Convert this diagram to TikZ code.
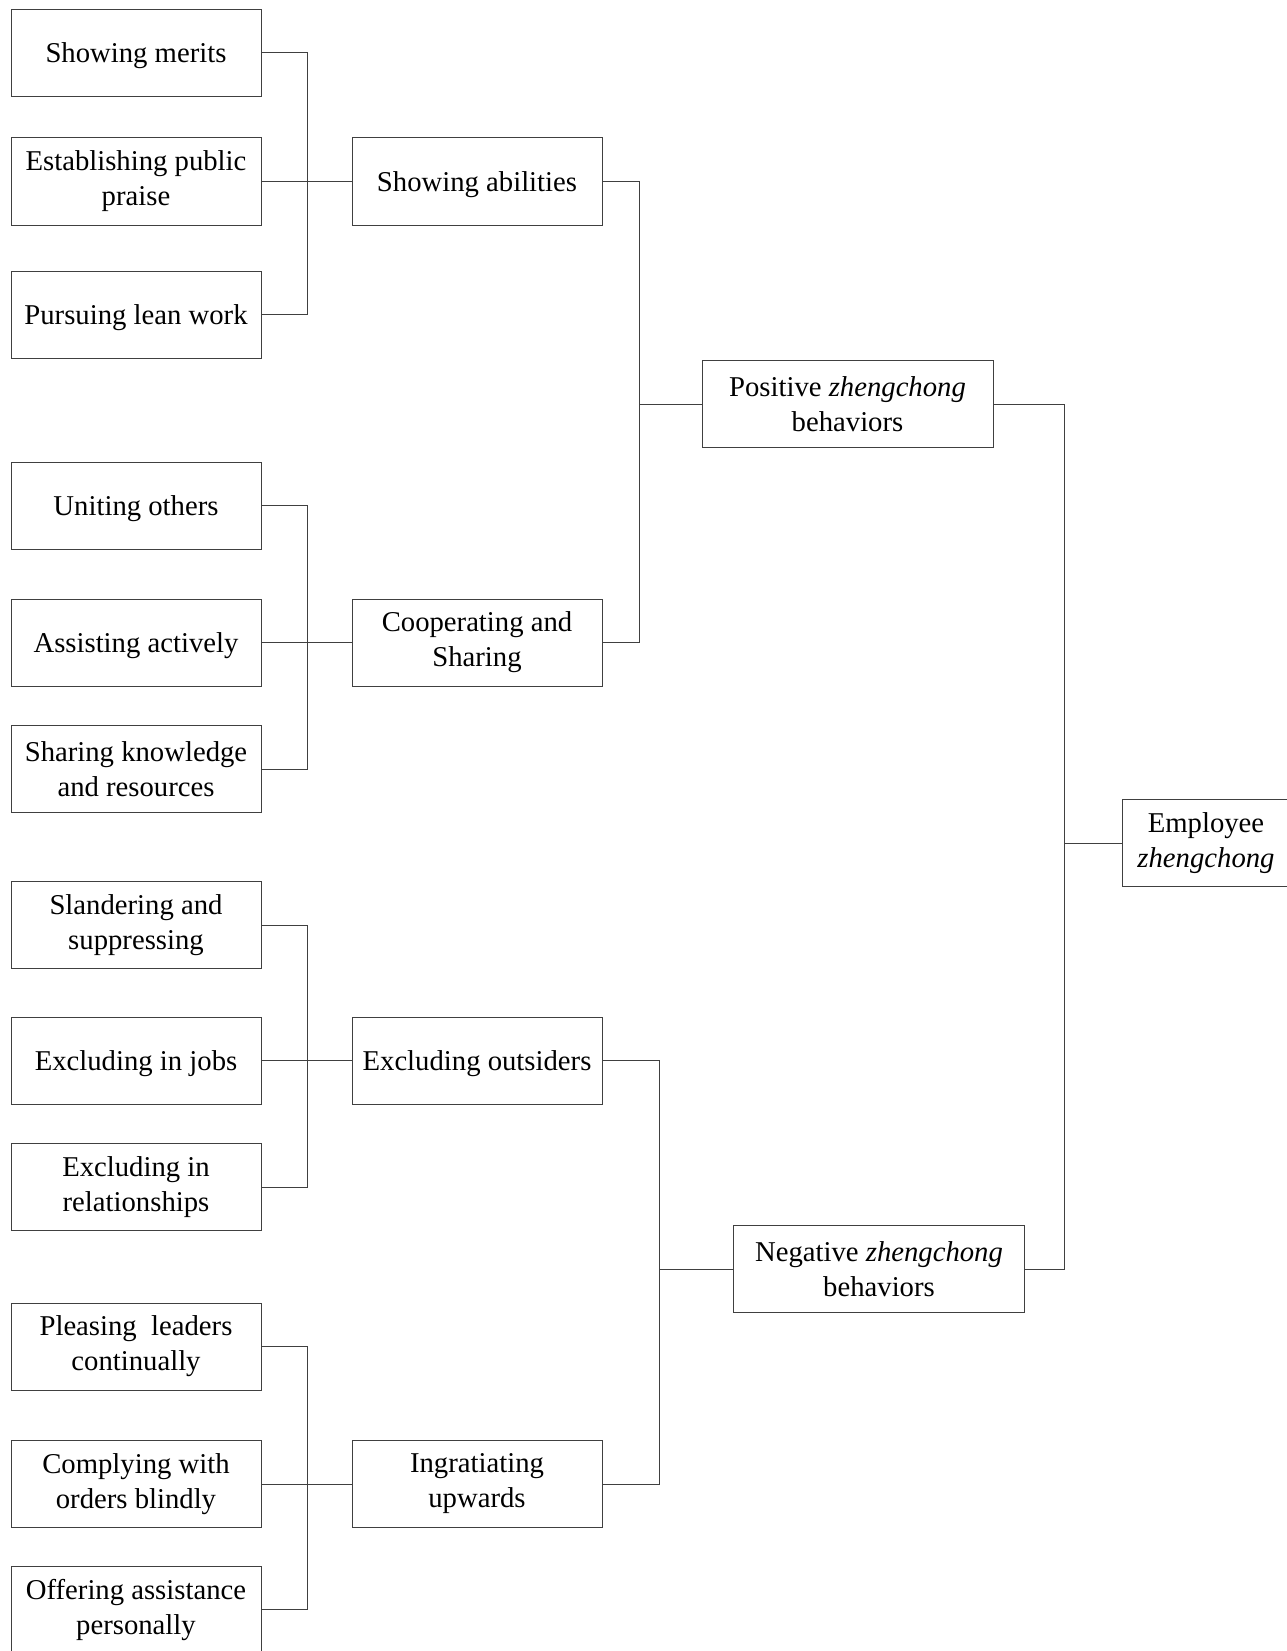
\documentclass[tikz,border=0pt]{standalone}
\usepackage{fontspec}
\setmainfont{Liberation Serif}
\tikzset{
  box/.style={draw=black!75, line width=1pt, align=center, inner sep=0pt,
    minimum height=87pt, font=\fontsize{28.7}{35}\selectfont},
  leaf/.style={box, minimum width=250pt},
  mid/.style={box, minimum width=250pt},
  top/.style={box, minimum width=291pt},
  single/.style={text depth=0pt},
  link/.style={draw=black!75, line width=1pt}
}
\begin{document}
\begin{tikzpicture}[x=1pt,y=-1pt]
\useasboundingbox (0,0) rectangle (1287,1651);
% junction columns
\coordinate (ja) at (307,0);
\coordinate (jp) at (639,0);
\coordinate (jn) at (659,0);
\coordinate (je) at (1064,0);
% left column
\node[leaf, single] (merits) at (136,53) {Showing merits};
\node[leaf] (praise) at (136,181.5) {Establishing public\\praise};
\node[leaf, single] (lean) at (136,314.5) {Pursuing lean work};
\node[leaf, single] (uniting) at (136,505.5) {Uniting others};
\node[leaf, single] (assisting) at (136,642.5) {Assisting actively};
\node[leaf] (sharing) at (136,769) {Sharing knowledge\\and resources};
\node[leaf] (slander) at (136,925) {Slandering and\\suppressing};
\node[leaf, single] (jobs) at (136,1060.5) {Excluding in jobs};
\node[leaf] (relations) at (136,1187) {Excluding in\\relationships};
\node[leaf] (pleasing) at (136,1346.5) {Pleasing~~leaders\\continually};
\node[leaf] (complying) at (136,1484) {Complying with\\orders blindly};
\node[leaf] (offering) at (136,1609.5) {Offering assistance\\personally};
% middle column
\node[mid, single] (abilities) at (477,181.5) {Showing abilities};
\node[mid] (coop) at (477,642.5) {Cooperating and\\Sharing};
\node[mid, single] (outsiders) at (477,1060.5) {Excluding outsiders};
\node[mid] (upwards) at (477,1484) {Ingratiating\\upwards};
% right side
\node[top] (positive) at (847.5,404) {Positive \textit{zhengchong}\\behaviors};
\node[top] (negative) at (879,1269) {Negative \textit{zhengchong}\\behaviors};
\node[box, minimum width=168pt] (employee) at (1206,843) {Employee\\\textit{zhengchong}};
% leaves to sub-dimensions
\draw[link] (merits.east) -| (ja |- lean.east) -- (lean.east);
\draw[link] (praise.east) -- (abilities.west);
\draw[link] (uniting.east) -| (ja |- sharing.east) -- (sharing.east);
\draw[link] (assisting.east) -- (coop.west);
\draw[link] (slander.east) -| (ja |- relations.east) -- (relations.east);
\draw[link] (jobs.east) -- (outsiders.west);
\draw[link] (pleasing.east) -| (ja |- offering.east) -- (offering.east);
\draw[link] (complying.east) -- (upwards.west);
% sub-dimensions to dimensions
\draw[link] (abilities.east) -| (jp |- coop.east) -- (coop.east);
\draw[link] (positive.west) -- (positive.west -| jp);
\draw[link] (outsiders.east) -| (jn |- upwards.east) -- (upwards.east);
\draw[link] (negative.west) -- (negative.west -| jn);
% dimensions to construct
\draw[link] (positive.east) -| (je |- negative.east) -- (negative.east);
\draw[link] (employee.west) -- (employee.west -| je);
\end{tikzpicture}
\end{document}
